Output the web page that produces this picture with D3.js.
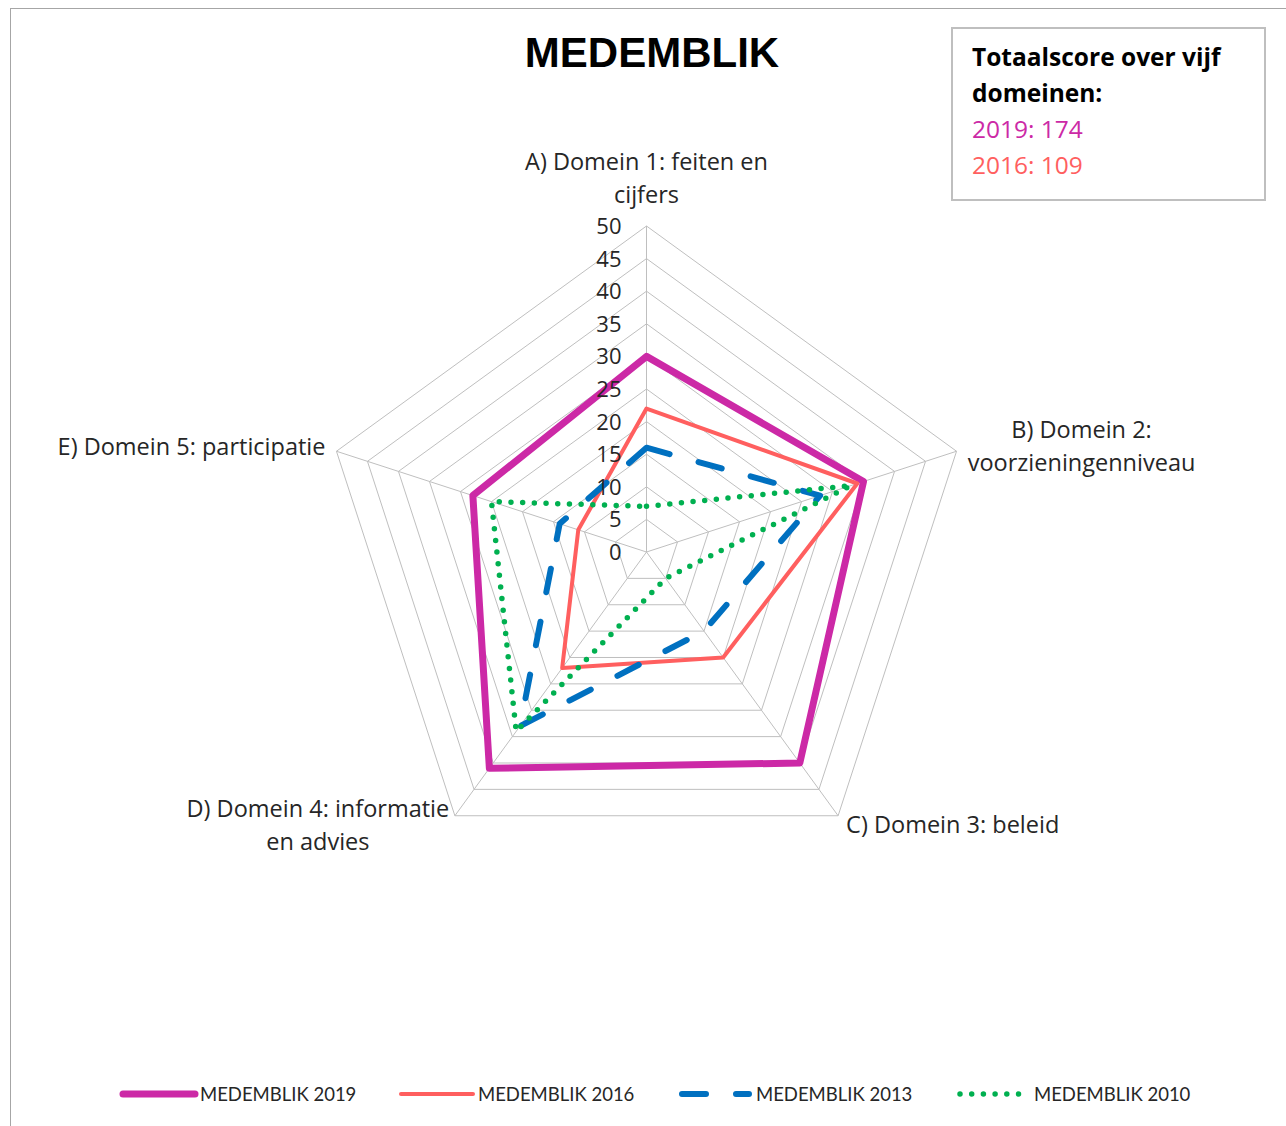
<!DOCTYPE html>
<html lang="nl">
<head>
<meta charset="UTF-8"/>
<title>Medemblik radar</title>
<script src="https://d3js.org/d3.v7.min.js"></script>
<style>
	body { margin: 0; background: #fff; }
	svg text { font-family: "Open Sans", Lato, sans-serif; }
</style>
</head>
<body>
<script>
var w = 1286;
var h = 1126;

// categories (label lines) and series values
var labelLines = [
	["A) Domein 1: feiten en", "cijfers"],
	["B) Domein 2:", "voorzieningenniveau"],
	["C) Domein 3: beleid"],
	["D) Domein 4: informatie", "en advies"],
	["E) Domein 5: participatie"]
];
var seriesNames = ["MEDEMBLIK 2019", "MEDEMBLIK 2016", "MEDEMBLIK 2013", "MEDEMBLIK 2010"];
var v2019 = [30, 35, 40, 41, 28];
var v2016 = [22, 34, 20, 22, 11];
var v2013 = [16, 28, 15, 33, 14];
var v2010 = [7, 33, 5, 34, 25];
var tickValues = [0, 5, 10, 15, 20, 25, 30, 35, 40, 45, 50];
var totalLines = ["2019: 174", "2016: 109"];

var cx = 646.5, cy = 552;
var rScale = d3.scaleLinear().domain([0, 50]).range([0, 326]);
var n = labelLines.length;

function angle(i) { return -Math.PI / 2 + i * 2 * Math.PI / n; }
function pt(i, v) {
	return [cx + rScale(v) * Math.cos(angle(i)), cy + rScale(v) * Math.sin(angle(i))];
}

var svg = d3.select("body").append("svg")
	.attr("width", w)
	.attr("height", h);

// chart border
svg.append("rect")
	.attr("x", 10.5).attr("y", 8.5)
	.attr("width", w + 20).attr("height", h + 20)
	.attr("fill", "white")
	.attr("stroke", "#a6a6a6")
	.attr("stroke-width", 1);

// grid rings
var ring = d3.line().x(function(d){ return d[0]; }).y(function(d){ return d[1]; }).curve(d3.curveLinearClosed);
svg.selectAll(".ring")
	.data(tickValues.slice(1))
	.enter()
	.append("path")
	.attr("class", "ring")
	.attr("d", function(t){
		return ring(d3.range(n).map(function(i){ return pt(i, t); }));
	})
	.attr("fill", "none")
	.attr("stroke", "#bfbfbf")
	.attr("stroke-width", 1);

// spokes
svg.selectAll(".spoke")
	.data(d3.range(n))
	.enter()
	.append("line")
	.attr("x1", cx).attr("y1", cy)
	.attr("x2", function(i){ return pt(i, 50)[0]; })
	.attr("y2", function(i){ return pt(i, 50)[1]; })
	.attr("stroke", "#bfbfbf")
	.attr("stroke-width", 1);

// series
var series = [
	{ name: seriesNames[0], values: v2019, color: "#cc29a6", width: 7, dash: null },
	{ name: seriesNames[1], values: v2016, color: "#ff5f5f", width: 4, dash: null },
	{ name: seriesNames[2], values: v2013, color: "#0070c0", width: 6, dash: "24 30" },
	{ name: seriesNames[3], values: v2010, color: "#00b050", width: 5.5, dash: "0 11.7" }
];

series.forEach(function(s){
	svg.append("path")
		.attr("d", ring(s.values.map(function(v, i){ return pt(i, v); })))
		.attr("fill", "none")
		.attr("stroke", s.color)
		.attr("stroke-width", s.width)
		.attr("stroke-linejoin", "round")
		.attr("stroke-linecap", s.dash ? "round" : "butt")
		.attr("stroke-dasharray", s.dash);
});

// tick labels
svg.selectAll(".tick")
	.data(tickValues)
	.enter()
	.append("text")
	.attr("x", cx - 25)
	.attr("y", function(t){ return cy - rScale(t) + 8; })
	.attr("text-anchor", "end")
	.style("font-size", "22px")
	.style("fill", "#262626")
	.text(function(t){ return t; });

// category labels: [offset x, offset y of first line baseline, anchor]
var labelPos = [
	[0, -56, "middle"],
	[125, -13, "middle"],
	[8, 17, "start"],
	[-137, 1, "middle"],
	[-11, 4, "end"]
];
labelLines.forEach(function(lines, i){
	var p = pt(i, 50);
	var t = svg.append("text")
		.attr("text-anchor", labelPos[i][2])
		.style("font-size", "23.5px")
		.style("fill", "#262626");
	lines.forEach(function(l, k){
		t.append("tspan")
			.attr("x", p[0] + labelPos[i][0])
			.attr("y", p[1] + labelPos[i][1] + k * 33)
			.text(l);
	});
});

// title
svg.append("text")
	.attr("x", 652)
	.attr("y", 67)
	.attr("text-anchor", "middle")
	.style("font-family", "'Liberation Sans', Arial, sans-serif")
	.style("font-weight", "bold")
	.style("font-size", "42px")
	.style("fill", "black")
	.text("MEDEMBLIK");

// totals box
svg.append("rect")
	.attr("x", 952).attr("y", 28)
	.attr("width", 313).attr("height", 172)
	.attr("fill", "white")
	.attr("stroke", "#bfbfbf")
	.attr("stroke-width", 2);

var boxText = [
	{ t: "Totaalscore over vijf", c: "black", b: true },
	{ t: "domeinen:", c: "black", b: true },
	{ t: totalLines[0], c: series[0].color, b: false },
	{ t: totalLines[1], c: series[1].color, b: false }
];
svg.selectAll(".boxt")
	.data(boxText)
	.enter()
	.append("text")
	.attr("x", 972)
	.attr("y", function(d, i){ return 66 + i * 36; })
	.style("font-size", "24.5px")
	.style("font-weight", function(d){ return d.b ? "bold" : "normal"; })
	.style("fill", function(d){ return d.c; })
	.text(function(d){ return d.t; });

// legend
var legend = svg.selectAll(".legend")
	.data(series)
	.enter()
	.append("g")
	.attr("transform", function(d, i){ return "translate(" + (123 + i * 278) + ",1094)"; });

legend.append("line")
	.attr("x1", function(d){ return d.dash ? 3 : 0; })
	.attr("x2", function(d){ return d.dash ? 70 : 72; })
	.attr("y1", 0).attr("y2", 0)
	.attr("stroke", function(d){ return d.color; })
	.attr("stroke-width", function(d){ return d.width; })
	.attr("stroke-linecap", "round")
	.attr("stroke-dasharray", function(d, i){ return i == 2 ? "24 30" : d.dash; });

legend.append("text")
	.attr("x", 77)
	.attr("y", 7)
	.style("font-family", "Lato, sans-serif")
	.style("font-size", "18.5px")
	.style("fill", "#262626")
	.text(function(d){ return d.name; });
</script>
</body>
</html>
